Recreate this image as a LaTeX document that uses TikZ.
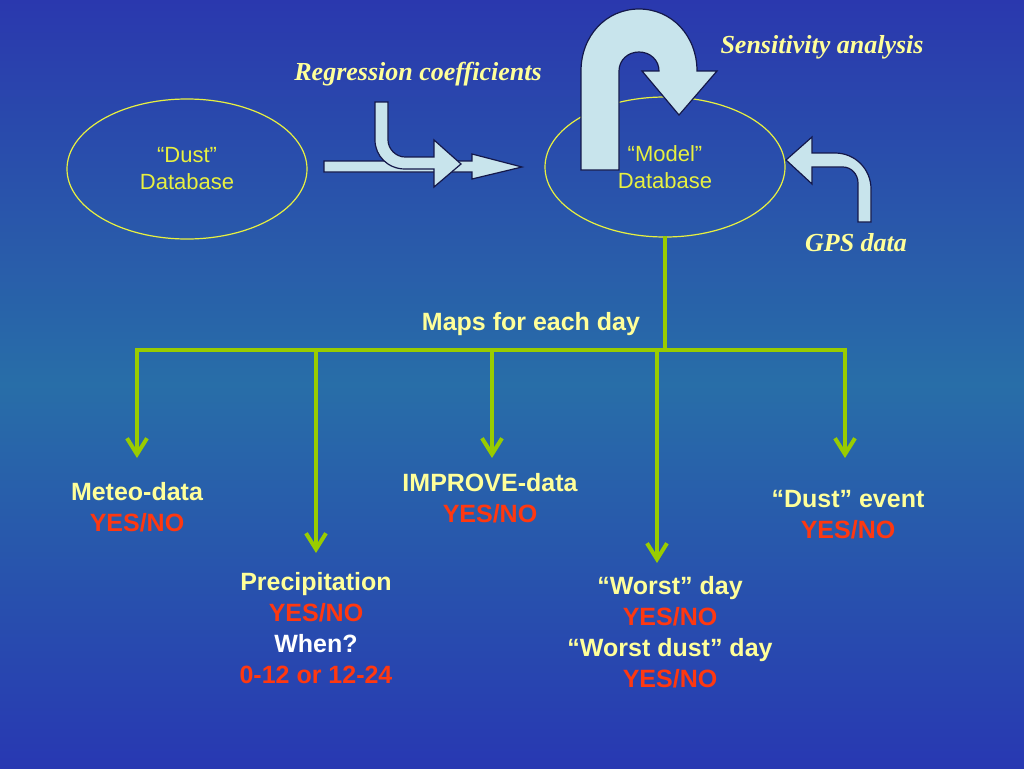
\documentclass[tikz,border=0pt]{standalone}
\usepackage{fontspec}
\setmainfont{Liberation Sans}
\newfontfamily\notefont{Liberation Serif}
\usepackage{xcolor}
\usepackage{tikz}
\usetikzlibrary{shapes.geometric, arrows.meta, positioning}

\definecolor{bgtop}{RGB}{42,56,174}
\definecolor{bgmid}{RGB}{40,110,168}
\definecolor{bgbot}{RGB}{40,56,178}
\definecolor{linegreen}{RGB}{153,204,0}
\definecolor{dbyellow}{RGB}{232,240,64}
\definecolor{paleyellow}{RGB}{255,255,153}
\definecolor{answerred}{RGB}{255,56,16}
\definecolor{arrowfill}{RGB}{200,228,236}
\definecolor{arrowline}{RGB}{20,24,74}

\begin{document}
\begin{tikzpicture}[
    x=1pt, y=-1pt,
    dbase/.style={ellipse, draw=dbyellow, line width=1.2pt, text=dbyellow,
        minimum width=240pt, minimum height=140pt, inner sep=0pt, align=center,
        font=\fontsize{22}{27}\selectfont},
    note/.style={text=paleyellow, inner sep=0pt, anchor=base,
        font=\notefont\bfseries\itshape\fontsize{26}{30}\selectfont},
    label/.style={text=paleyellow, inner sep=0pt, anchor=north, align=center,
        font=\bfseries\fontsize{25}{31}\selectfont},
    branch/.style={draw=linegreen, line width=4pt, line cap=rect},
    drop/.style={branch, -{Straight Barb[length=16pt, width=20pt]}},
    blockarrow/.style={fill=arrowfill, draw=arrowline, line width=1.2pt, line join=miter}
]
    % Background
    \useasboundingbox (0,0) rectangle (1024,768);
    \fill[top color=bgtop, bottom color=bgmid] (0,0) rectangle (1024,385);
    \fill[top color=bgmid, bottom color=bgbot] (0,384) rectangle (1024,768);

    % Databases
    \node[dbase] (dustdb) at (187,169) {“Dust”\\Database};
    \node[dbase] (modeldb) at (665,167) {“Model”\\Database};

    % Regression coefficients
    \node[note] (regress) at (418,80) {Regression coefficients};
    \draw[blockarrow] (324,161) -- (472,161) -- (472,154) -- (522,167)
        -- (472,179) -- (472,172) -- (324,172) -- cycle;
    \draw[blockarrow] (375,102) -- (375,140) .. controls (375,156) and (388,169) .. (405,169)
        -- (434,169) -- (434,187) -- (461,164) -- (434,140) -- (434,157) -- (405,157)
        .. controls (396,157) and (388,149) .. (388,140) -- (388,102) -- cycle;

    % Sensitivity analysis
    \node[note] (sensitivity) at (822,54) {Sensitivity analysis};
    \draw[blockarrow] (581,170) -- (581,71) .. controls (581,36) and (606,9) .. (639,9)
        .. controls (672,9) and (697,36) .. (697,71) -- (717,71) -- (679,115) -- (642,71)
        -- (659,71) .. controls (659,60) and (650,52) .. (639,52)
        .. controls (628,52) and (619,60) .. (619,71) -- (619,170) -- cycle;

    % GPS data
    \node[note] (gps) at (856,251) {GPS data};
    \draw[blockarrow] (858,222) -- (858,183) .. controls (858,174) and (851,167) .. (843,167)
        -- (812,167) -- (812,184) -- (786,160) -- (812,137) -- (812,153) -- (835,153)
        .. controls (855,153) and (871,169) .. (871,189) -- (871,222) -- cycle;

    % Maps
    \coordinate (split) at (665,350);
    \coordinate (barW) at (137,350);
    \coordinate (barE) at (845,350);
    \draw[branch] (modeldb.south) -- (split);
    \draw[branch] (barW) -- (barE);
    \node[text=paleyellow, inner sep=0pt, anchor=base, font=\bfseries\fontsize{25}{31}\selectfont]
        (maps) at (531,330) {Maps for each day};

    % Tips
    \coordinate (meteotip) at (137,458);
    \coordinate (prectip) at (316,553);
    \coordinate (improvetip) at (492,458);
    \coordinate (worsttip) at (657,563);
    \coordinate (eventtip) at (845,458);
    \foreach \tip in {meteotip, prectip, improvetip, worsttip, eventtip}
        \draw[drop] (\tip |- barW) -- (\tip);

    % Checks
    \node[label] (meteo) at (137,482) {Meteo-data\\\textcolor{answerred}{YES/NO}};
    \node[label] (improve) at (490,473) {IMPROVE-data\\\textcolor{answerred}{YES/NO}};
    \node[label] (event) at (848,490) {“Dust” event\\\textcolor{answerred}{YES/NO}};
    \node[label] (precip) at (316,572) {Precipitation\\\textcolor{answerred}{YES/NO}\\
        \textcolor{white}{When?}\\\textcolor{answerred}{0-12 or 12-24}};
    \node[label] (worst) at (670,576) {“Worst” day\\\textcolor{answerred}{YES/NO}\\
        “Worst dust” day\\\textcolor{answerred}{YES/NO}};
\end{tikzpicture}
\end{document}
